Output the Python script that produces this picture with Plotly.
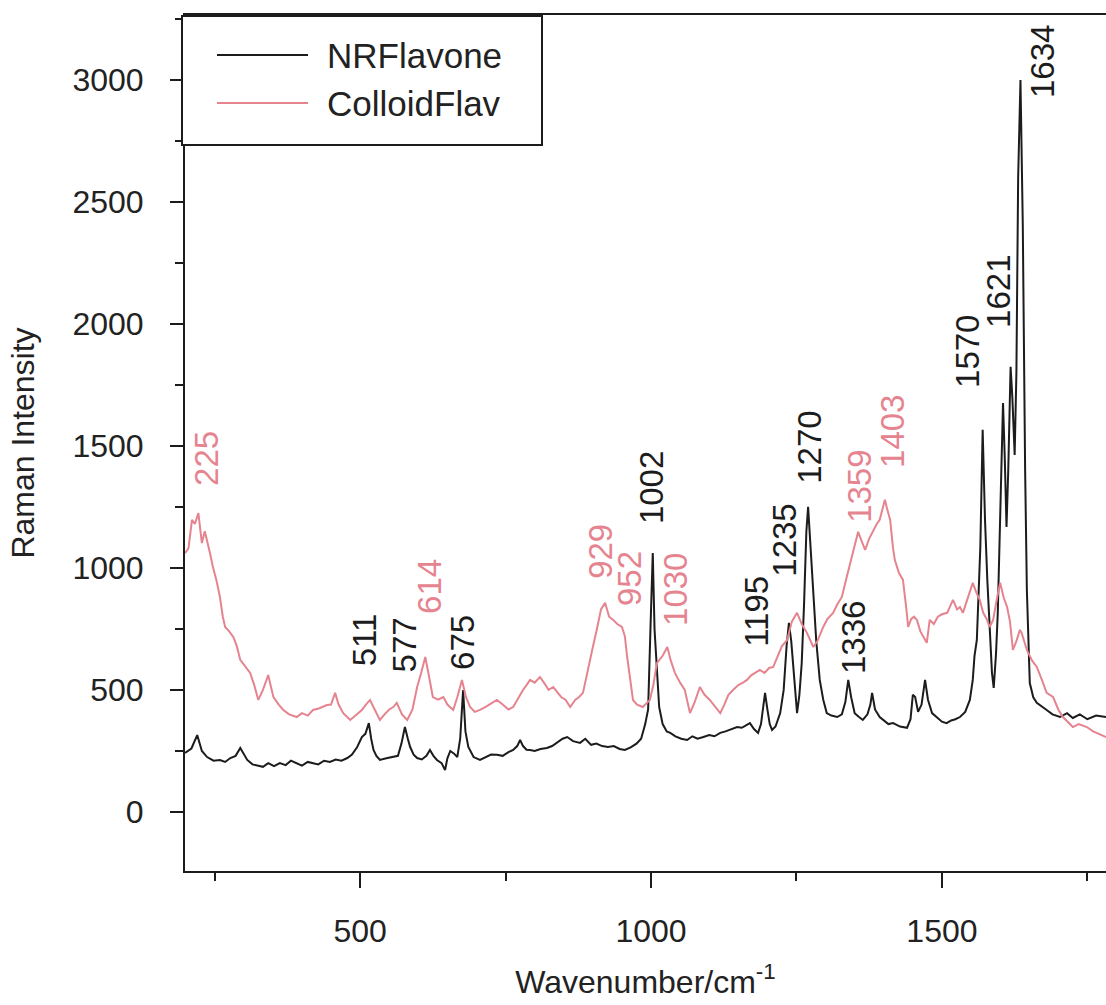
import plotly.graph_objects as go

# ---------------- data ----------------
nr_x = [199, 210, 220, 228, 237, 248, 259, 268, 277, 286, 294, 300, 306, 315, 325, 333, 342, 352, 362, 372,
        381, 391, 400, 410, 419, 428, 438, 448, 458, 468, 478, 486, 495, 503, 509, 515, 519, 523, 528, 534,
        545, 557, 565, 571, 577, 582, 586, 592, 598, 606, 614, 620, 626, 632, 640, 646, 650, 655, 661, 667,
        672, 677, 681, 686, 695, 706, 715, 725, 735, 745, 755, 763, 770, 775, 780, 786, 792, 800, 810, 821,
        830, 840, 848, 856, 866, 878, 887, 897, 906, 916, 926, 936, 946, 955, 965, 975, 983, 990, 995, 999,
        1003, 1006, 1010, 1014, 1020, 1027, 1033, 1042, 1052, 1062, 1071, 1080, 1090, 1100, 1109, 1119, 1128,
        1138, 1148, 1156, 1163, 1170, 1177, 1184, 1189, 1193, 1196, 1200, 1204, 1208, 1214, 1222, 1228, 1233,
        1237, 1241, 1244, 1248, 1251, 1255, 1259, 1263, 1267, 1270, 1274, 1279, 1284, 1290, 1296, 1302, 1310,
        1320, 1328, 1334, 1339, 1344, 1350, 1357, 1364, 1372, 1377, 1380, 1385, 1393, 1400, 1408, 1416, 1428,
        1440, 1446, 1450, 1454, 1459, 1465, 1471, 1476, 1483, 1490, 1500, 1508, 1516, 1523, 1531, 1540, 1548,
        1553, 1556, 1560, 1563, 1566, 1570, 1574, 1578, 1582, 1586, 1589, 1593, 1596, 1600, 1605, 1608, 1611,
        1614, 1618, 1621, 1625, 1628, 1631, 1635, 1639, 1643, 1646, 1651, 1657, 1663, 1672, 1680, 1690, 1703,
        1715, 1725, 1737, 1750, 1765, 1782]
nr_y = [242, 260, 315, 250, 225, 210, 213, 205, 221, 230, 262, 240, 213, 195, 190, 185, 200, 188, 200, 192,
        210, 200, 190, 205, 200, 195, 210, 205, 215, 210, 221, 235, 266, 307, 320, 364, 300, 254, 230, 213,
        220, 225, 230, 280, 348, 300, 266, 235, 221, 215, 230, 254, 230, 213, 200, 172, 220, 250, 240, 225,
        300, 500, 330, 266, 225, 213, 225, 235, 234, 230, 245, 254, 270, 295, 270, 255, 254, 250, 258, 262,
        270, 285, 300, 307, 290, 283, 300, 275, 280, 270, 266, 270, 258, 254, 265, 280, 300, 360, 420, 750,
        1061, 750, 594, 430, 360, 330, 324, 310, 300, 295, 310, 300, 307, 315, 310, 324, 330,
        340, 348, 345, 355, 364, 340, 324, 360, 430, 488, 420, 360, 336, 350, 405, 500, 680,
        775, 700, 610, 480, 405, 480, 610, 850, 1150, 1250, 1100, 881, 700, 541, 460, 405, 395,
        389, 400, 450, 541, 470, 405, 390, 377, 400, 440, 488, 420, 389, 375, 360, 364, 350,
        345, 380, 480, 471, 410, 440, 541, 460, 405, 390, 370, 364, 375, 380, 389, 410, 459,
        541, 640, 705, 900, 1086, 1566, 1200, 951, 750, 570, 508, 650, 816, 1200, 1676, 1450, 1168,
        1400, 1824, 1700, 1463, 1800, 2600, 3000, 2400, 1400, 910, 528, 470, 447, 430, 418, 400, 389,
        405, 385, 400, 380, 395, 389]

col_x = [199, 205, 211, 216, 222, 228, 233, 237, 242, 247, 253, 259, 264, 268, 275, 282, 288, 294, 302, 311,
         318, 325, 333, 342, 346, 351, 360, 368, 378, 391, 400, 410, 419, 430, 443, 450, 457, 463, 471, 477,
         483, 492, 503, 510, 517, 525, 534, 542, 550, 557, 563, 572, 581, 590, 598, 605, 612, 618, 625, 634,
         643, 650, 660, 667, 675, 682, 689, 697, 706, 715, 725, 735, 745, 755, 763, 772, 780, 786, 792, 800,
         809, 816, 824, 832, 840, 846, 853, 861, 870, 876, 883, 890, 900, 907, 914, 921, 928, 935, 942, 950,
         955, 959, 964, 969, 976, 986, 992, 998, 1004, 1010, 1020, 1028, 1034, 1041, 1050, 1058, 1067, 1075,
         1084, 1092, 1101, 1110, 1119, 1126, 1133, 1141, 1150, 1158, 1165, 1172, 1180, 1187, 1195, 1203, 1210,
         1218, 1225, 1234, 1242, 1251, 1259, 1268, 1274, 1279, 1286, 1296, 1303, 1313, 1320, 1328, 1335, 1342,
         1349, 1356, 1362, 1368, 1375, 1382, 1388, 1393, 1398, 1402, 1406, 1411, 1416, 1419, 1426, 1433, 1438,
         1442, 1447, 1452, 1457, 1463, 1470, 1474, 1479, 1486, 1493, 1500, 1509, 1514, 1519, 1526, 1531, 1536,
         1544, 1553, 1559, 1565, 1571, 1577, 1582, 1588, 1595, 1600, 1606, 1612, 1617, 1622, 1628, 1634, 1637,
         1642, 1646, 1655, 1663, 1672, 1680, 1691, 1700, 1708, 1716, 1725, 1735, 1749, 1760, 1770, 1782]
col_y = [1061, 1080, 1197, 1180, 1225, 1102, 1150, 1115, 1060, 1004, 950, 881, 800, 758, 740, 717, 680, 623, 600, 570,
         520, 459, 500, 561, 520, 471, 440, 418, 400, 389, 405, 395, 418, 425, 438, 440, 488, 440, 405, 390,
         377, 395, 418, 440, 459, 420, 377, 400, 420, 430, 447, 400, 377, 420, 512, 570, 635, 560, 471, 460,
         471, 440, 418, 470, 541, 470, 430, 410, 418, 430, 445, 459, 440, 420, 430, 470, 500, 520, 541, 530,
         553, 530, 500, 512, 490, 470, 460, 430, 460, 470, 488, 560, 676, 750, 830, 857, 800, 787, 770, 758,
         720, 635, 540, 459, 440, 430, 445, 459, 520, 610, 640, 676, 620, 570, 530, 500, 405, 450,
         512, 480, 459, 430, 405, 440, 480, 500, 520, 530, 541, 560, 570, 582, 570, 590, 594,
         640, 680, 705, 780, 816, 770, 734, 700, 676, 700, 758, 790, 816, 850, 881, 950, 1020,
         1090, 1148, 1110, 1074, 1120, 1156, 1180, 1197, 1240, 1279, 1240, 1197, 1080, 1033, 980, 951, 850,
         758, 790, 800, 787, 740, 710, 693, 787, 770, 800, 810, 816, 840, 869, 830, 840, 816,
         870, 939, 900, 869, 816, 790, 758, 787, 880, 939, 880, 840, 780, 664, 700, 746, 734,
         690, 664, 620, 594, 540, 488, 471, 420, 389, 370, 348, 360, 348, 330, 320, 307]

peak_labels = ["225", "511", "577", "614", "675", "929", "952", "1002", "1030", "1195",
               "1235", "1270", "1336", "1359", "1403", "1570", "1621", "1634"]
peak_label_x = [237, 509, 576, 620, 677, 914, 964, 1002, 1043, 1182,
                1230, 1273, 1349, 1359, 1414, 1543, 1598, 1674]
peak_label_y = [1447, 705, 684, 926, 693, 1070, 955, 1328, 910, 824,
                1115, 1496, 713, 1336, 1561, 1889, 2135, 3074]
peak_series = ["C", "N", "N", "C", "N", "C", "C", "N", "C", "N",
               "N", "N", "N", "C", "C", "N", "N", "N"]

x_ticks = [500, 1000, 1500]
y_ticks = [0, 500, 1000, 1500, 2000, 2500, 3000]

# ---------------- style ----------------
BLACK = "#1c1c1c"
PINK = "#e5848f"
FONT = "Liberation Sans"

W, H = 1106, 1005
ML, MR, MT, MB = 185, 0, 15, 134
PW, PH = W - ML - MR, H - MT - MB


def px(xp):
    return (xp - ML) / PW


def py(yp):
    return (H - MB - yp) / PH


fig = go.Figure()
fig.add_trace(go.Scatter(x=nr_x, y=nr_y, mode="lines", name="NRFlavone",
                         line=dict(color=BLACK, width=2), showlegend=False))
fig.add_trace(go.Scatter(x=col_x, y=col_y, mode="lines", name="ColloidFlav",
                         line=dict(color=PINK, width=2), showlegend=False))

for lab, lx, ly, s in zip(peak_labels, peak_label_x, peak_label_y, peak_series):
    fig.add_annotation(x=lx, y=ly, text=lab, textangle=-90, showarrow=False,
                       xanchor="center", yanchor="middle",
                       font=dict(family=FONT, size=33, color=BLACK if s == "N" else PINK))

# legend box (drawn)
fig.add_shape(type="rect", xref="paper", yref="paper",
              x0=px(182), x1=px(542), y0=py(145), y1=py(16),
              line=dict(color=BLACK, width=2), fillcolor="white", layer="above")
fig.add_shape(type="line", xref="paper", yref="paper",
              x0=px(217), x1=px(308), y0=py(55), y1=py(55),
              line=dict(color=BLACK, width=2), layer="above")
fig.add_shape(type="line", xref="paper", yref="paper",
              x0=px(217), x1=px(308), y0=py(103), y1=py(103),
              line=dict(color=PINK, width=2), layer="above")
fig.add_annotation(xref="paper", yref="paper", x=px(325), y=py(56), text="NRFlavone",
                   showarrow=False, xanchor="left", yanchor="middle",
                   font=dict(family=FONT, size=35, color="#222"))
fig.add_annotation(xref="paper", yref="paper", x=px(325), y=py(104), text="ColloidFlav",
                   showarrow=False, xanchor="left", yanchor="middle",
                   font=dict(family=FONT, size=35, color="#222"))

fig.update_layout(
    width=W, height=H,
    margin=dict(l=ML, r=MR, t=MT, b=MB, autoexpand=False),
    paper_bgcolor="white", plot_bgcolor="white",
    font=dict(family=FONT, size=32, color="#222"),
    xaxis=dict(range=[199, 1782], tickvals=x_ticks, ticks="outside", ticklen=15, tickwidth=2,
               tickcolor=BLACK, showline=True, linecolor=BLACK, linewidth=2, mirror=True,
               showgrid=False, zeroline=False, ticklabelstandoff=16,
               minor=dict(dtick=250, tick0=0, ticks="outside", ticklen=8, tickwidth=2, tickcolor=BLACK),
               title=dict(text="Wavenumber/cm<sup>-1</sup>", standoff=22,
                          font=dict(family=FONT, size=32, color="#222"))),
    yaxis=dict(range=[-242, 3266], tickvals=y_ticks, ticks="outside", ticklen=13, tickwidth=2,
               tickcolor=BLACK, showline=True, linecolor=BLACK, linewidth=2, mirror=False,
               showgrid=False, zeroline=False, ticklabelstandoff=20,
               minor=dict(dtick=250, tick0=0, ticks="outside", ticklen=8, tickwidth=2, tickcolor=BLACK),
               title=dict(text="Raman Intensity", standoff=28,
                          font=dict(family=FONT, size=32, color="#222"))),
)

fig.write_html("out.html")
